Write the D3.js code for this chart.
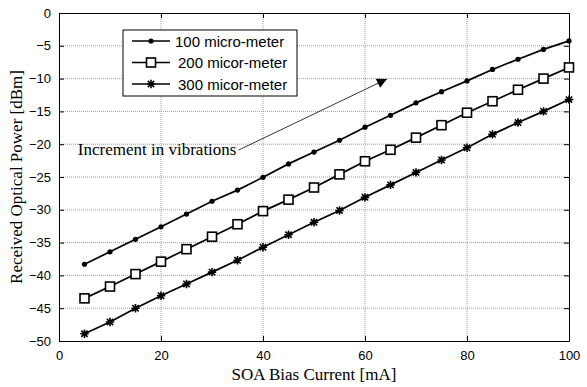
<!DOCTYPE html>
<html>
<head>
<meta charset="utf-8">
<script src="https://cdn.jsdelivr.net/npm/d3@7"></script>
<style>
  body { margin: 0; background: #fff; }
  svg { display: block; }
</style>
</head>
<body>
<div id="chart"></div>
<script>
// data
const current = [5, 10, 15, 20, 25, 30, 35, 40, 45, 50, 55, 60, 65, 70, 75, 80, 85, 90, 95, 100];
const p100 = [-38.3, -36.4, -34.5, -32.6, -30.65, -28.7, -27.0, -25.05, -23.0, -21.2, -19.4, -17.4, -15.6, -13.7, -12.0, -10.35, -8.6, -7.05, -5.55, -4.25];
const p200 = [-43.5, -41.7, -39.8, -37.9, -36.0, -34.1, -32.2, -30.2, -28.45, -26.6, -24.6, -22.6, -20.85, -19.0, -17.1, -15.2, -13.45, -11.7, -10.0, -8.3];
const p300 = [-48.9, -47.1, -45.0, -43.1, -41.3, -39.5, -37.7, -35.7, -33.8, -31.9, -30.1, -28.1, -26.2, -24.3, -22.4, -20.55, -18.5, -16.7, -15.0, -13.2];
const seriesNames = ["100 micro-meter", "200 micor-meter", "300 micor-meter"];
const xTicks = [0, 20, 40, 60, 80, 100];
const yTicks = [0, -5, -10, -15, -20, -25, -30, -35, -40, -45, -50];

const W = 587, H = 387;
const margin = {top: 13, right: 18, bottom: 46, left: 59};
const width = W - margin.left - margin.right,
    height = H - margin.top - margin.bottom;

const svg = d3.select("#chart")
  .append("svg")
    .attr("width", W)
    .attr("height", H);

const g = svg.append("g")
    .attr("transform", `translate(${margin.left}, ${margin.top})`);

const x = d3.scaleLinear().domain([0, 100]).range([0, width]);
const y = d3.scaleLinear().domain([-50, 0]).range([height, 0]);

// grid
g.append("g")
  .selectAll("line")
  .data(xTicks.slice(1, -1))
  .join("line")
    .attr("x1", d => x(d)).attr("x2", d => x(d))
    .attr("y1", 0).attr("y2", height)
    .attr("stroke", "#a0a0a0")
    .attr("stroke-dasharray", "1,1");
g.append("g")
  .selectAll("line")
  .data(yTicks.slice(1, -1))
  .join("line")
    .attr("x1", 0).attr("x2", width)
    .attr("y1", d => y(d)).attr("y2", d => y(d))
    .attr("stroke", "#a0a0a0")
    .attr("stroke-dasharray", "1,1");

// axes (inward ticks, box style)
const tickFont = "'Liberation Sans', Arial, sans-serif";
const axBottom = g.append("g")
  .attr("transform", `translate(0, ${height})`)
  .call(d3.axisBottom(x).tickValues(xTicks).tickSizeInner(-5).tickSizeOuter(0).tickPadding(10));
const axTop = g.append("g")
  .call(d3.axisTop(x).tickValues(xTicks).tickSizeInner(-5).tickSizeOuter(0).tickFormat(""));
const axLeft = g.append("g")
  .call(d3.axisLeft(y).tickValues(yTicks).tickSizeInner(-5).tickSizeOuter(0).tickPadding(10));
const axRight = g.append("g")
  .attr("transform", `translate(${width}, 0)`)
  .call(d3.axisRight(y).tickValues(yTicks).tickSizeInner(-5).tickSizeOuter(0).tickFormat(""));

[axBottom, axTop, axLeft, axRight].forEach(a => {
  a.select(".domain").attr("stroke", "#000").attr("stroke-width", 1);
  a.selectAll(".tick line").attr("stroke", "#000");
  a.selectAll("text")
    .attr("font-family", tickFont)
    .attr("font-size", "13px")
    .attr("fill", "#000");
});
axLeft.selectAll("text").attr("dx", "2");

// lines + markers
const series = [p100, p200, p300];
const line = d3.line()
  .x((d, i) => x(current[i]))
  .y(d => y(d));

function drawMarker(sel, k) {
  if (k === 0) {
    sel.append("circle").attr("r", 2.6).attr("fill", "#000");
  } else if (k === 1) {
    sel.append("rect")
      .attr("x", -4.5).attr("y", -4.5)
      .attr("width", 9).attr("height", 9)
      .attr("fill", "#fff").attr("stroke", "#000").attr("stroke-width", 1.6);
  } else {
    const s = 4.2;
    sel.append("path")
      .attr("d", `M${-s},0H${s}M0,${-s}V${s}M${-s * 0.75},${-s * 0.75}L${s * 0.75},${s * 0.75}M${-s * 0.75},${s * 0.75}L${s * 0.75},${-s * 0.75}`)
      .attr("stroke", "#000").attr("stroke-width", 1.6).attr("fill", "none");
  }
}

series.forEach((vals, k) => {
  g.append("path")
    .datum(vals)
    .attr("fill", "none")
    .attr("stroke", "#000")
    .attr("stroke-width", 1.7)
    .attr("d", line);
  g.append("g")
    .selectAll("g")
    .data(vals)
    .join("g")
      .attr("transform", (d, i) => `translate(${x(current[i])}, ${y(d)})`)
      .each(function() { drawMarker(d3.select(this), k); });
});

// annotation arrow
const serif = "'Liberation Serif', 'Times New Roman', serif";
svg.append("defs").append("marker")
    .attr("id", "head")
    .attr("viewBox", "0 0 10 10")
    .attr("refX", 10).attr("refY", 5)
    .attr("markerWidth", 14).attr("markerHeight", 10)
    .attr("markerUnits", "userSpaceOnUse")
    .attr("orient", "auto")
  .append("path")
    .attr("d", "M0,0L10,5L0,10z")
    .attr("fill", "#000");
g.append("line")
    .attr("x1", x(35.2)).attr("y1", y(-20.9))
    .attr("x2", x(64.3)).attr("y2", y(-10.06))
    .attr("stroke", "#000")
    .attr("stroke-width", 0.8)
    .attr("marker-end", "url(#head)");
g.append("text")
    .attr("x", x(34.8)).attr("y", y(-21.65))
    .attr("text-anchor", "end")
    .attr("font-family", serif)
    .attr("font-size", "17px")
    .text("Increment in vibrations");

// legend
const leg = svg.append("g").attr("transform", "translate(123, 30)");
leg.append("rect")
    .attr("width", 174).attr("height", 66)
    .attr("fill", "#fff").attr("stroke", "#000").attr("stroke-width", 1);
seriesNames.forEach((name, k) => {
  const ly = 11 + k * 21.5;
  leg.append("line")
    .attr("x1", 9).attr("x2", 47)
    .attr("y1", ly).attr("y2", ly)
    .attr("stroke", "#000").attr("stroke-width", 1.7);
  drawMarker(leg.append("g").attr("transform", `translate(28, ${ly})`), k);
  leg.append("text")
    .attr("x", k === 0 ? 52 : 55).attr("y", ly + 5.5)
    .attr("font-family", tickFont)
    .attr("font-size", "15px")
    .text(name);
});

// axis titles
svg.append("text")
    .attr("x", margin.left + width / 2).attr("y", 380)
    .attr("text-anchor", "middle")
    .attr("font-family", serif)
    .attr("font-size", "17px")
    .text("SOA Bias Current [mA]");
svg.append("text")
    .attr("transform", `translate(22, ${margin.top + height / 2}) rotate(-90)`)
    .attr("text-anchor", "middle")
    .attr("font-family", serif)
    .attr("font-size", "17px")
    .text("Received Optical Power [dBm]");
</script>
</body>
</html>
